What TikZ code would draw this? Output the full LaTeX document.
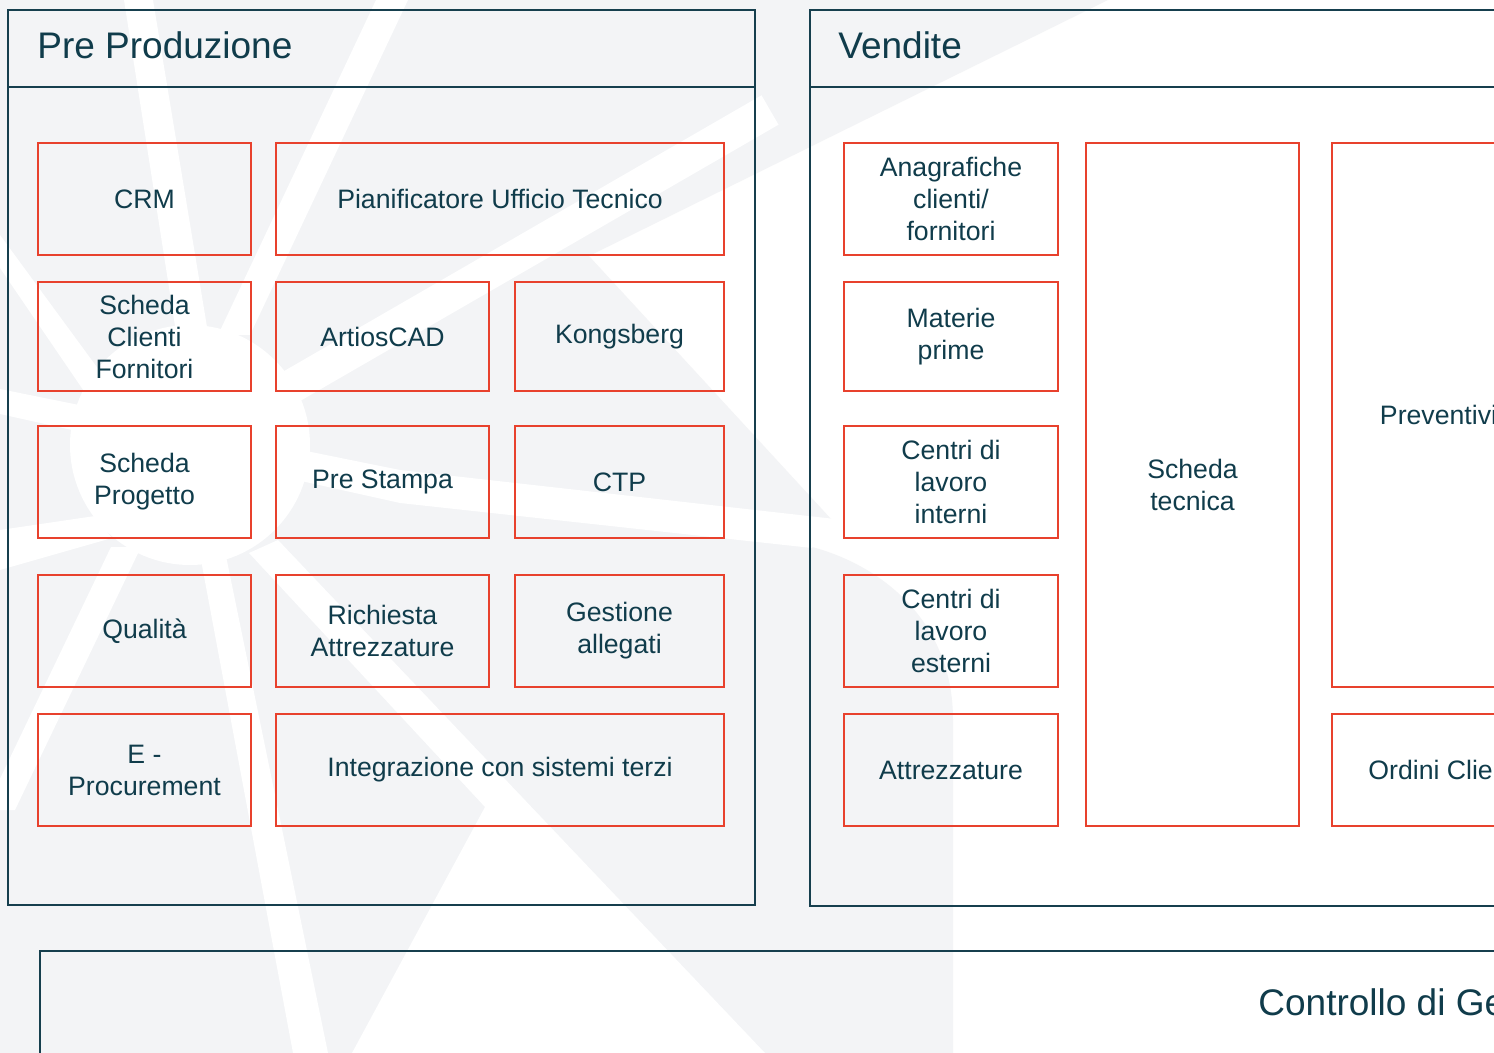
\documentclass[tikz,border=0pt]{standalone}
\usepackage{fontspec}
\setmainfont{Liberation Sans}
\definecolor{wmgray}{RGB}{243,244,246}
\definecolor{panelc}{RGB}{22,63,78}
\definecolor{textc}{RGB}{16,60,75}
\definecolor{redc}{RGB}{232,65,45}
\begin{document}
\begin{tikzpicture}[x=0.5pt,y=-0.5pt,
  rbox/.style={draw=redc,line width=0.75pt,rectangle,inner sep=0pt,align=center,text=textc,font=\fontsize{13.33}{16}\selectfont},
  ltxt/.style={anchor=west,inner sep=0pt,text=textc,font=\fontsize{13.33}{16}\selectfont},
  panel/.style={draw=panelc,line width=1.25pt},
  ptitle/.style={anchor=base west,inner sep=0pt,text=textc,font=\fontsize{18.5}{22}\selectfont},
  wm/.style={fill=white}]
\useasboundingbox (0,0) rectangle (1494,1053);
\clip (0,0) rectangle (1494,1053);
\fill[white] (0,0) rectangle (1494,1053);
% watermark
\fill[wmgray] (0,0) -- (1108,0) -- (589,256) -- (832,520) -- (812,547) .. controls (880,565) and (953,620) .. (953,720) -- (953,1053) -- (0,1053) -- cycle;
\fill[wm] (124,0) -- (153,0) -- (210,345) -- (178,345) -- cycle;
\fill[wm] (376,0) -- (408,0) -- (250,335) -- (218,335) -- cycle;
\fill[wm] (181.5,430.3) -- (761.5,95.3) -- (778.5,124.7) -- (198.5,459.7) -- cycle;
\fill[wm] (0,389) -- (400,470) -- (835,519) -- (812,548) -- (400,503) -- (0,414) -- cycle;
\fill[wm] (0,235) -- (0,268) -- (90,400) -- (110,385) -- cycle;
\fill[wm] (0,530) -- (0,570) -- (112,538) -- (95,516) -- cycle;
\fill[wm] (111,547) -- (141,547) -- (15,810) -- (-15,810) -- cycle;
\fill[wm] (249,553) -- (485,807) -- (352,1053) -- (765,1053) -- (278,540) -- cycle;
\fill[wm] (201,560) -- (226,556) -- (328,1053) -- (293,1053) -- cycle;
\fill[wm] (190,445) circle[radius=60pt];
% panels
\draw[panel] (8,10) rectangle (755,905);
\draw[panel] (8,87) -- (755,87);
\draw[panel] (1520,10) -- (810,10) -- (810,906) -- (1520,906);
\draw[panel] (810,87) -- (1520,87);
\draw[panel] (1520,951) -- (40,951) -- (40,1080);
\node[ptitle] (tpre) at (37,59) {Pre Produzione};
\node[ptitle] (tven) at (838,59) {Vendite};
\node[ptitle] (tcon) at (1258,1015) {Controllo di Ge};
% Pre Produzione boxes
\node[rbox,minimum width=106.5pt,minimum height=56pt] (crm) at (144.5,199) {CRM};
\node[rbox,minimum width=224pt,minimum height=56pt] (pian) at (500,199) {Pianificatore Ufficio Tecnico};
\node[rbox,minimum width=106.5pt,minimum height=54.5pt] (scf) at (144.5,336.5) {Scheda\\Clienti\\Fornitori};
\node[rbox,minimum width=106.5pt,minimum height=54.5pt] (artios) at (382.5,336.5) {ArtiosCAD};
\node[rbox,minimum width=104.5pt,minimum height=54.5pt] (kong) at (619.5,336.5) {Kongsberg};
\node[rbox,minimum width=106.5pt,minimum height=56pt] (sprog) at (144.5,482) {Scheda\\Progetto};
\node[rbox,minimum width=106.5pt,minimum height=56pt] (pstampa) at (382.5,482) {Pre Stampa};
\node[rbox,minimum width=104.5pt,minimum height=56pt] (ctp) at (619.5,482) {CTP};
\node[rbox,minimum width=106.5pt,minimum height=56pt] (qual) at (144.5,631) {Qualità};
\node[rbox,minimum width=106.5pt,minimum height=56pt] (rich) at (382.5,631) {Richiesta\\Attrezzature};
\node[rbox,minimum width=104.5pt,minimum height=56pt] (gest) at (619.5,631) {Gestione\\allegati};
\node[rbox,minimum width=106.5pt,minimum height=56pt] (eproc) at (144.5,770) {E -\\Procurement};
\node[rbox,minimum width=224pt,minimum height=56pt] (integ) at (500,770) {Integrazione con sistemi terzi};
% Vendite boxes
\node[rbox,minimum width=107pt,minimum height=56pt] (anag) at (951,199) {Anagrafiche\\clienti/\\fornitori};
\node[rbox,minimum width=107pt,minimum height=54.5pt] (mat) at (951,336.5) {Materie\\prime};
\node[rbox,minimum width=107pt,minimum height=56pt] (cint) at (951,482) {Centri di\\lavoro\\interni};
\node[rbox,minimum width=107pt,minimum height=56pt] (cest) at (951,631) {Centri di\\lavoro\\esterni};
\node[rbox,minimum width=107pt,minimum height=56pt] (attr) at (951,770) {Attrezzature};
\node[rbox,minimum width=106.5pt,minimum height=341.5pt] (stec) at (1192.5,484.5) {Scheda\\tecnica};
\node[rbox,minimum width=106.5pt,minimum height=272pt] (prev) at (1438.5,415) {Preventivi};
\node[rbox,minimum width=106.5pt,minimum height=56pt] (ord) at (1438.5,770) {};
\node[ltxt] (ordt) at (1368,770) {Ordini Clie};
\end{tikzpicture}
\end{document}
